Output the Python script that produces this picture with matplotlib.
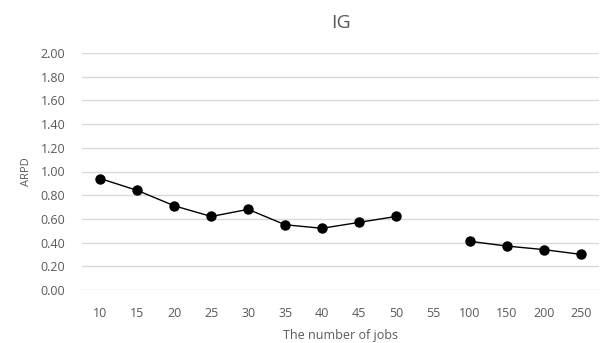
import numpy as np
import matplotlib
matplotlib.use("Agg")
import matplotlib.pyplot as plt

# job counts on the category axis; 55 has no result
jobs = ["10", "15", "20", "25", "30", "35", "40", "45", "50", "55", "100", "150", "200", "250"]
arpd = [0.94, 0.84, 0.71, 0.62, 0.68, 0.55, 0.52, 0.57, 0.62, np.nan, 0.41, 0.37, 0.34, 0.30]
yticks = [0.0, 0.2, 0.4, 0.6, 0.8, 1.0, 1.2, 1.4, 1.6, 1.8, 2.0]

plt.rcParams['font.family'] = ['Open Sans', 'DejaVu Sans']
grey = '#595959'

fig = plt.figure(figsize=(6.07, 3.43), dpi=100)
ax = fig.add_axes([0.135, 0.155, 0.852, 0.69])

x = np.arange(len(jobs))
ax.plot(x, arpd, color='black', lw=1.0, marker='o', ms=6.5, zorder=3)

ax.set_xlim(-0.5, len(jobs) - 0.5)
ax.set_ylim(0, 2.0)
ax.set_yticks(yticks)
ax.set_yticklabels([f"{v:.2f}" for v in yticks])
ax.set_xticks(x)
ax.set_xticklabels(jobs)
ax.tick_params(axis='both', length=0, labelsize=9, colors=grey)
ax.tick_params(axis='x', pad=12)
ax.tick_params(axis='y', pad=12)
ax.grid(axis='y', color='#d9d9d9', lw=1.0)
ax.set_axisbelow(True)
for s in ax.spines.values():
    s.set_visible(False)

ax.set_title("IG", fontsize=14, color=grey, pad=18)
ax.set_ylabel("ARPD", fontsize=8, color=grey, labelpad=6)
ax.set_xlabel("The number of jobs", fontsize=9, color=grey, labelpad=7)

fig.savefig("out.png", dpi=100)
